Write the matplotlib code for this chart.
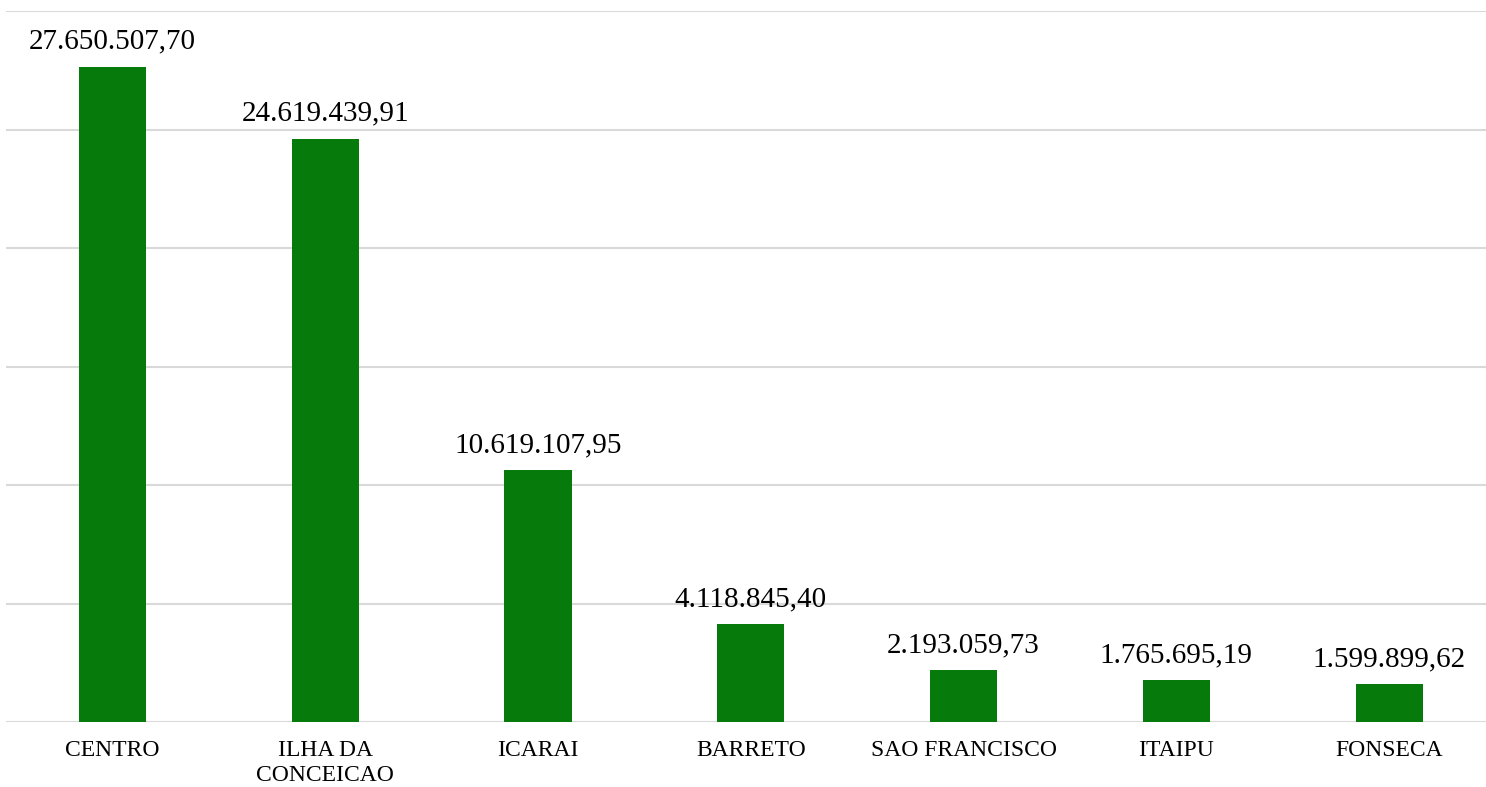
import matplotlib.pyplot as plt
import numpy as np

# Dados
bairros = ["CENTRO", "ILHA DA\nCONCEICAO", "ICARAI", "BARRETO",
           "SAO FRANCISCO", "ITAIPU", "FONSECA"]
valores = [27650507.70, 24619439.91, 10619107.95, 4118845.40,
           2193059.73, 1765695.19, 1599899.62]


def formata_br(v):
    s = f"{v:,.2f}"
    return s.replace(",", "X").replace(".", ",").replace("X", ".")


plt.rcParams['font.family'] = ['Liberation Serif', 'DejaVu Serif']

fig = plt.figure(figsize=(14.86, 7.87), dpi=100)
ax = fig.add_axes([6 / 1486, 1 - 722 / 787, 1480 / 1486, 711 / 787])

x = np.arange(len(bairros))
ax.bar(x, valores, width=0.315, color="#067A0A", zorder=3)

for xi, v in zip(x, valores):
    ax.annotate(formata_br(v), (xi, v), xytext=(0, 13), textcoords="offset points",
                ha="center", va="baseline", fontsize=21, color="black")

ax.set_xlim(-0.5, 6.455)
ax.set_ylim(0, 30e6)
ax.set_yticks(np.arange(0, 30e6 + 1, 5e6))
ax.set_yticklabels([])
ax.tick_params(axis="y", length=0)
ax.set_xticks(x)
ax.set_xticklabels(bairros, fontsize=17, linespacing=1.25)
ax.tick_params(axis="x", length=0, pad=13)

ax.grid(axis="y", color="#D9D9D9", linewidth=1.5, zorder=0)
for s in ["top", "right", "left", "bottom"]:
    ax.spines[s].set_visible(False)

fig.savefig("out.png", dpi=100)
